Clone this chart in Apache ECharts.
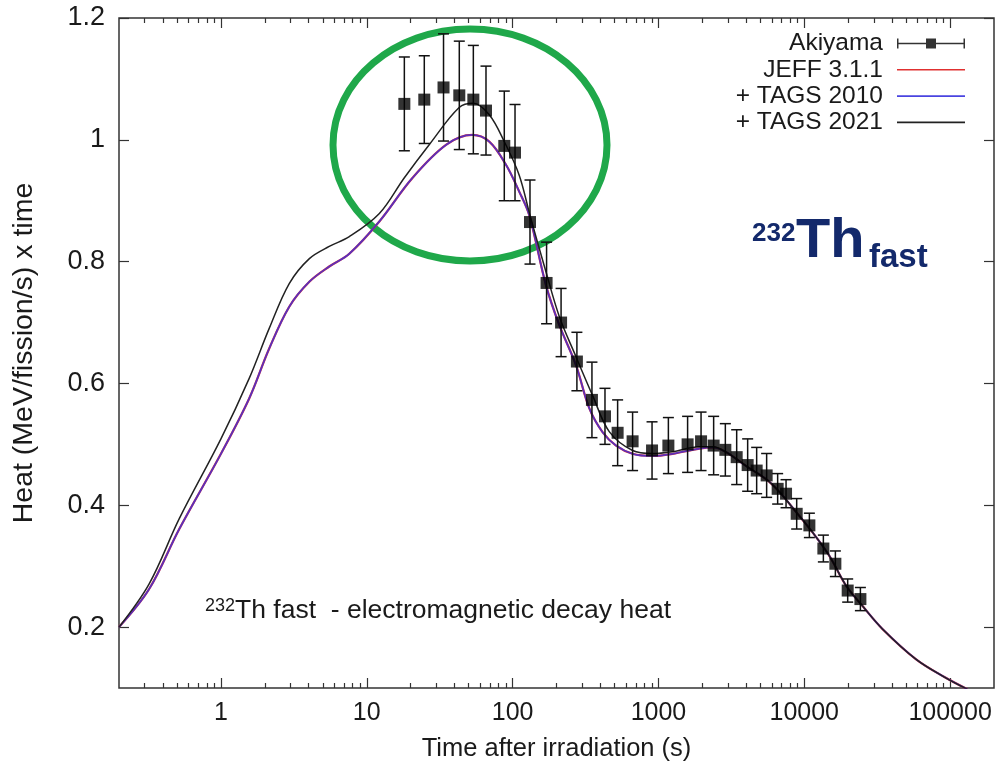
<!DOCTYPE html>
<html>
<head>
<meta charset="utf-8">
<script src="https://cdn.jsdelivr.net/npm/echarts@6/dist/echarts.min.js"></script>
<style>
html,body{margin:0;padding:0;background:#fff;}
#chart{width:999px;height:769px;}
</style>
</head>
<body>
<div id="chart"></div>
<script>
// ---- data ----
const akiyamaTime = [18.1, 24.8, 33.6, 43.1, 53.8, 65.7, 87.7, 103.9, 131.6, 171, 215, 276, 350, 430, 525, 665, 904, 1170, 1585, 1960, 2391, 2876, 3440, 4091, 4716, 5521, 6569, 7500, 8872, 10840, 13520, 16340, 19850, 24260];
const akiyamaHeat = [1.059, 1.066, 1.086, 1.073, 1.066, 1.048, 0.990, 0.979, 0.865, 0.765, 0.700, 0.636, 0.573, 0.546, 0.519, 0.505, 0.490, 0.498, 0.500, 0.505, 0.498, 0.491, 0.479, 0.466, 0.457, 0.449, 0.427, 0.419, 0.386, 0.367, 0.329, 0.304, 0.260, 0.246];
const akiyamaErr  = [0.077, 0.072, 0.088, 0.089, 0.089, 0.073, 0.090, 0.079, 0.069, 0.067, 0.056, 0.048, 0.062, 0.046, 0.054, 0.048, 0.047, 0.046, 0.046, 0.048, 0.048, 0.043, 0.045, 0.043, 0.038, 0.036, 0.025, 0.023, 0.025, 0.020, 0.022, 0.021, 0.019, 0.019];

const tags2021Time = [0.2, 0.322, 0.518, 1, 1.56, 2.14, 2.94, 4.04, 5.53, 7.59, 12.2, 18, 26.8, 43, 53.8, 69.2, 87.7, 111, 131.6, 169.5, 209, 272, 354, 460, 665, 913, 1245, 1908, 2380, 2876, 3420, 4074, 5470, 6750, 8790, 11360, 14860, 19350, 25020, 34350, 58500, 91400, 131400];
const tags2021Heat = [0.2, 0.271, 0.378, 0.509, 0.608, 0.690, 0.764, 0.805, 0.825, 0.841, 0.879, 0.937, 0.992, 1.053, 1.060, 1.041, 0.997, 0.942, 0.876, 0.783, 0.710, 0.644, 0.580, 0.521, 0.490, 0.485, 0.488, 0.496, 0.496, 0.488, 0.476, 0.463, 0.443, 0.422, 0.389, 0.356, 0.317, 0.268, 0.235, 0.197, 0.147, 0.118, 0.098];

const tags2010Time = [0.2, 0.322, 0.518, 1, 1.56, 2.14, 2.94, 4.04, 5.53, 7.59, 12.2, 20.5, 35.1, 52.9, 69.2, 90.1, 111, 130.2, 169.5, 209, 272, 336, 414, 512, 665, 913, 1251, 1908, 2380, 2876, 3420, 4074, 5470, 6750, 8790, 11360, 14860, 19350, 25020, 34350, 58500, 91400, 131400];
const tags2010Heat = [0.2, 0.2625, 0.361, 0.4845, 0.575, 0.657, 0.726, 0.767, 0.792, 0.813, 0.866, 0.937, 0.992, 1.008, 0.997, 0.959, 0.915, 0.876, 0.761, 0.696, 0.630, 0.559, 0.520, 0.498, 0.4845, 0.481, 0.4845, 0.493, 0.495, 0.488, 0.476, 0.463, 0.443, 0.422, 0.389, 0.356, 0.317, 0.268, 0.235, 0.197, 0.147, 0.118, 0.098];

const jeff311Time = [0.2, 0.322, 0.518, 1, 1.56, 2.14, 2.94, 4.04, 5.53, 7.59, 12.2, 20.5, 35.1, 52.9, 69.2, 90.1, 111, 130.2, 169.5, 209, 272, 336, 414, 512, 665, 913, 1251, 1908, 2380, 2876, 3420, 4074, 5470, 6750, 8790, 11360, 14860, 19350, 25020, 34350, 58500, 91400, 131400];
const jeff311Heat = [0.2, 0.2625, 0.361, 0.4845, 0.575, 0.657, 0.726, 0.767, 0.792, 0.813, 0.866, 0.937, 0.992, 1.008, 0.997, 0.959, 0.915, 0.876, 0.761, 0.696, 0.630, 0.559, 0.520, 0.498, 0.4845, 0.481, 0.4845, 0.493, 0.495, 0.488, 0.476, 0.463, 0.443, 0.422, 0.389, 0.356, 0.317, 0.268, 0.235, 0.197, 0.147, 0.118, 0.098];

const xMajorTicks = [1, 10, 100, 1000, 10000, 100000];
const xMinorTicks = [0.3,0.4,0.5,0.6,0.7,0.8,0.9, 2,3,4,5,6,7,8,9, 20,30,40,50,60,70,80,90, 200,300,400,500,600,700,800,900, 2000,3000,4000,5000,6000,7000,8000,9000, 20000,30000,40000,50000,60000,70000,80000,90000];
const yTicks = [0.2, 0.4, 0.6, 0.8, 1, 1.2];

const seriesNames = ['Akiyama', 'JEFF 3.1.1', '+ TAGS 2010', '+ TAGS 2021'];

// ---- chart ----
const FONT = 'Liberation Sans, Arial, Helvetica, sans-serif';
const TXT = '#1a1a1a';
const NAVY = '#13296b';
const chart = echarts.init(document.getElementById('chart'), null, {renderer: 'canvas'});

const zip = (a, b) => a.map((v, i) => [v, b[i]]);
const errData = akiyamaTime.map((t, i) => [t, akiyamaHeat[i], akiyamaErr[i]]);
const LINE_ICON = 'path://M0,0 L68,0 L68,1.6 L0,1.6 Z';

function xAxisDef(pos, ticks, len, labels) {
  return {
    type: 'log', logBase: 10, min: 0.2, max: 200000, position: pos,
    axisLine: {show: false},
    splitLine: {show: false},
    axisTick: {show: true, inside: true, length: len, customValues: ticks, lineStyle: {color: '#333', width: 1.2}},
    axisLabel: labels ? {show: true, customValues: xMajorTicks, formatter: v => String(Math.round(v)), fontFamily: FONT, fontSize: 25, color: TXT, margin: 13} : {show: false},
    name: labels ? 'Time after irradiation (s)' : '',
    nameLocation: 'middle', nameGap: 48,
    nameTextStyle: {fontFamily: FONT, fontSize: 25.5, color: TXT}
  };
}

const option = {
  backgroundColor: '#fff',
  animation: false,
  grid: {left: 119, top: 18, width: 875, height: 670, show: true, borderColor: '#333', borderWidth: 1.5, backgroundColor: 'transparent'},
  legend: {
    orient: 'vertical', right: 34, top: 31, padding: 0, align: 'right',
    itemWidth: 68, itemHeight: 10, itemGap: 1.3, symbolKeepAspect: true,
    textStyle: {fontFamily: FONT, fontSize: 24.5, color: TXT, padding: [0, 9, 0, 0]},
    data: [
      {name: seriesNames[0], icon: 'path://M0,4.25 L68,4.25 L68,5.75 L0,5.75 Z M0,0 L1.5,0 L1.5,10 L0,10 Z M66.5,0 L68,0 L68,10 L66.5,10 Z M29,0 L39,0 L39,10 L29,10 Z'},
      {name: seriesNames[1], icon: LINE_ICON},
      {name: seriesNames[2], icon: LINE_ICON},
      {name: seriesNames[3], icon: LINE_ICON}
    ]
  },
  xAxis: [
    xAxisDef('bottom', xMajorTicks, 10, true),
    xAxisDef('bottom', xMinorTicks, 5, false),
    xAxisDef('top', xMajorTicks, 10, false),
    xAxisDef('top', xMinorTicks, 5, false)
  ],
  yAxis: [
    {
      type: 'value', min: 0.1, max: 1.2, position: 'left',
      axisLine: {show: false}, splitLine: {show: false},
      axisTick: {show: true, inside: true, length: 10, customValues: yTicks, lineStyle: {color: '#333', width: 1.2}},
      axisLabel: {customValues: yTicks, fontFamily: FONT, fontSize: 27, color: TXT, margin: 14},
      name: 'Heat (MeV/fission/s) x time', nameLocation: 'middle', nameGap: 80,
      nameTextStyle: {fontFamily: FONT, fontSize: 28.5, color: TXT}
    },
    {
      type: 'value', min: 0.1, max: 1.2, position: 'right',
      axisLine: {show: false}, splitLine: {show: false},
      axisTick: {show: true, inside: true, length: 10, customValues: yTicks, lineStyle: {color: '#333', width: 1.2}},
      axisLabel: {show: false}
    }
  ],
  series: [
    {
      name: seriesNames[1], type: 'line', xAxisIndex: 0, yAxisIndex: 0,
      data: zip(jeff311Time, jeff311Heat), symbol: 'none', smooth: 0.35,
      lineStyle: {color: '#e03030', width: 2.2}, itemStyle: {color: '#e03030'}, z: 3
    },
    {
      name: seriesNames[2], type: 'line', xAxisIndex: 0, yAxisIndex: 0,
      data: zip(tags2010Time, tags2010Heat), symbol: 'none', smooth: 0.35,
      lineStyle: {color: '#3a30dd', width: 1.8, opacity: 0.8}, itemStyle: {color: '#4a44e0'}, z: 4
    },
    {
      name: seriesNames[3], type: 'line', xAxisIndex: 0, yAxisIndex: 0,
      data: zip(tags2021Time, tags2021Heat), symbol: 'none', smooth: 0.35,
      lineStyle: {color: '#222', width: 1.5}, itemStyle: {color: '#222'}, z: 5
    },
    {
      name: 'Akiyama err', type: 'custom', xAxisIndex: 0, yAxisIndex: 0,
      data: errData, z: 6,
      renderItem: function (params, api) {
        const t = api.value(0), v = api.value(1), e = api.value(2);
        const p1 = api.coord([t, v + e]);
        const p2 = api.coord([t, v - e]);
        const w = 5.5;
        const st = {stroke: '#111', lineWidth: 1.5};
        return {type: 'group', children: [
          {type: 'line', shape: {x1: p1[0], y1: p1[1], x2: p2[0], y2: p2[1]}, style: st},
          {type: 'line', shape: {x1: p1[0] - w, y1: p1[1], x2: p1[0] + w, y2: p1[1]}, style: st},
          {type: 'line', shape: {x1: p2[0] - w, y1: p2[1], x2: p2[0] + w, y2: p2[1]}, style: st}
        ]};
      }
    },
    {
      name: seriesNames[0], type: 'scatter', xAxisIndex: 0, yAxisIndex: 0,
      data: zip(akiyamaTime, akiyamaHeat), symbol: 'rect', symbolSize: 12,
      itemStyle: {color: '#000'}, z: 7
    }
  ],
  graphic: [
    {
      type: 'ellipse', z: 1,
      shape: {cx: 470, cy: 145, rx: 137, ry: 116},
      style: {fill: 'none', stroke: '#1fa84a', lineWidth: 7}
    },
    {
      type: 'text', left: 205, top: 597, z: 10,
      style: {
        text: '{s|232}{n|Th fast  - electromagnetic decay heat}',
        rich: {
          s: {fontFamily: FONT, fontSize: 18, fill: TXT, verticalAlign: 'top', padding: [0, 0, 8, 0]},
          n: {fontFamily: FONT, fontSize: 26.5, fill: TXT}
        }
      }
    },
    {type: 'text', x: 752, y: 221, z: 10, style: {text: '232', fontFamily: FONT, fontWeight: 'bold', fontSize: 26, fill: NAVY, verticalAlign: 'top'}},
    {type: 'text', x: 796, y: 214, z: 10, style: {text: 'Th', fontFamily: FONT, fontWeight: 'bold', fontSize: 56, fill: NAVY, verticalAlign: 'top'}},
    {type: 'text', x: 869, y: 241, z: 10, style: {text: 'fast', fontFamily: FONT, fontWeight: 'bold', fontSize: 33, fill: NAVY, verticalAlign: 'top'}}
  ]
};
chart.setOption(option);
</script>
</body>
</html>
